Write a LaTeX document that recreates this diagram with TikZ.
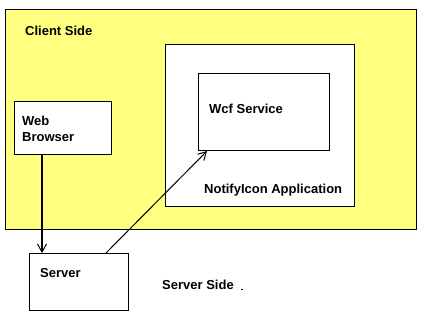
\documentclass[tikz,border=0pt]{standalone}
\usepackage{fontspec}
\setmainfont{Liberation Sans}
\usetikzlibrary{arrows.meta}
\definecolor{clientyellow}{HTML}{FFFF80}
\begin{document}
\begin{tikzpicture}[x=1pt,y=-1pt,
  box/.style={draw=black,line width=1pt,fill=white,inner sep=0pt,anchor=north west},
  lbl/.style={font=\fontsize{13}{15}\selectfont\bfseries,anchor=base west,inner sep=0pt},
  conn/.style={-{Straight Barb[length=8pt,width=9pt,line width=1pt]}}]
\useasboundingbox (0,0) rectangle (433,330);
\node[box,fill=clientyellow,minimum width=411pt,minimum height=220pt] (client) at (5,9) {};
\node[box,minimum width=189pt,minimum height=162pt] (notify) at (165,44) {};
\node[box,minimum width=131pt,minimum height=77pt] (wcf) at (198,73) {};
\node[box,minimum width=97pt,minimum height=53pt] (web) at (14,101) {};
\node[box,minimum width=99pt,minimum height=57pt] (server) at (29,253) {};
\node[lbl] (tclient) at (25,35) {Client Side};
\node[lbl] (tweb1) at (22,125) {Web};
\node[lbl] (tweb2) at (22,141) {Browser};
\node[lbl] (twcf) at (209,113) {Wcf Service};
\node[lbl] (tnotify) at (204,193) {NotifyIcon Application};
\node[lbl] (tserver) at (40,277) {Server};
\node[lbl] (tserverside) at (162,289) {Server Side};
\coordinate (mark) at (241,289);
\draw[line width=1pt] (mark) -- ++(2,0);
\draw[conn,line width=2pt] ([xshift=28pt]web.south west) -- ([xshift=13pt]server.north west);
\draw[conn,line width=1pt] ([xshift=77pt]server.north west) -- ([xshift=9pt]wcf.south west);
\end{tikzpicture}
\end{document}
